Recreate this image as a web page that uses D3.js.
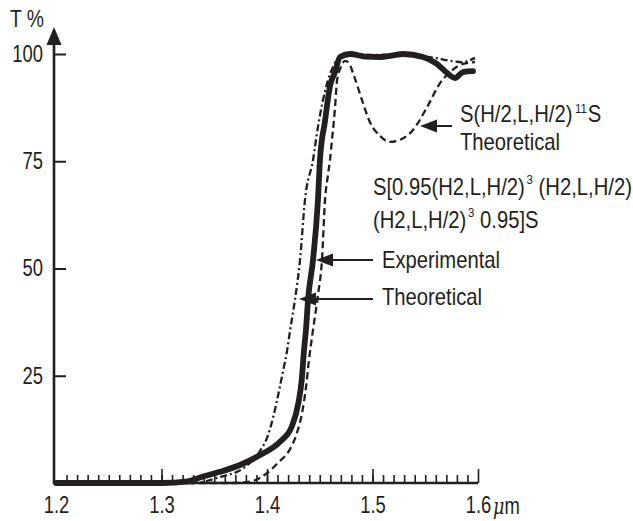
<!DOCTYPE html>
<html>
<head>
<meta charset="utf-8">
<script src="https://cdn.jsdelivr.net/npm/d3@7/dist/d3.min.js"></script>
<style>
  html, body { margin: 0; padding: 0; background: #fff; }
  svg { display: block; }
  text { font-family: "Liberation Sans", Arimo, Arial, sans-serif; fill: #231f20; }
</style>
</head>
<body>
<svg id="chart" width="633" height="521"></svg>
<script>
// Transmission spectra of the multilayer stacks (wavelength in µm, T in %)
const expLambda = [1.2, 1.3, 1.325, 1.3365, 1.3555, 1.3744, 1.3934, 1.4123, 1.4234, 1.4297, 1.4329, 1.4351, 1.437, 1.4389, 1.4436, 1.4483, 1.4502, 1.455, 1.4597, 1.4645, 1.4692, 1.4787, 1.4930, 1.5071, 1.5180, 1.5289, 1.5479, 1.5611, 1.5706, 1.5782, 1.5858, 1.5953];
const expT      = [0, 0, 0.4, 1.3, 2.6, 4.2, 6.5, 9.6, 13.1, 18.6, 24, 31, 35.9, 42.7, 52, 66, 75.3, 84.4, 92.5, 95.8, 99.3, 100, 99.4, 99.3, 99.6, 100, 99.3, 97.7, 95.6, 94.4, 95.8, 96.0];

const dashLambda = [1.2, 1.37, 1.3867, 1.4, 1.4104, 1.4218, 1.4284, 1.4332, 1.437, 1.4398, 1.4436, 1.4483, 1.4521, 1.455, 1.4578, 1.4597, 1.4616, 1.4645, 1.4664, 1.4701, 1.4739, 1.4777, 1.4815, 1.49, 1.4976, 1.5071, 1.5166, 1.526, 1.5384, 1.5517, 1.564, 1.5735, 1.5858, 1.5972];
const dashT      = [0, 0, 0.5, 2.3, 4.7, 7.9, 11.7, 16.3, 22.4, 28.7, 35.7, 43.8, 52, 66, 71.8, 75.3, 80, 87.6, 93.9, 97, 98.4, 97.9, 95.6, 89.3, 84.1, 80.9, 79.5, 80, 82.3, 87.6, 93.2, 95.8, 97.7, 98.1];

const dotLambda = [1.2, 1.33, 1.3555, 1.379, 1.3934, 1.4, 1.4057, 1.4104, 1.4152, 1.419, 1.4218, 1.4265, 1.4313, 1.436, 1.4436, 1.4483, 1.4531, 1.4578, 1.4626, 1.4692, 1.4882, 1.5166, 1.545, 1.5592, 1.5735, 1.5848, 1.5972];
const dotT      = [0, 0, 1.4, 3.7, 7.5, 10.5, 15.2, 20.3, 26.1, 30.8, 35.4, 42.7, 52, 66, 75.3, 83, 89.3, 93.9, 97, 99.3, 99.8, 99.8, 99.5, 99.1, 98.4, 98.1, 99.1];

const xTickValues = [1.2, 1.3, 1.4, 1.5, 1.6];
const xMinorTicks = d3.range(121, 160).map(v => v / 100);
const yTickValues = [25, 50, 75, 100];

const ink = "#231f20";
const numSqueeze = 0.8;        // condensed digits
const wordSqueeze = 0.88;      // condensed lettering for annotations
const fontSize = 23;
const svg = d3.select("#chart");

const x = d3.scaleLinear().domain([1.2, 1.6]).range([56, 478]);
const y = d3.scaleLinear().domain([0, 100]).range([483, 54]);

const zip = (xs, ys) => xs.map((v, i) => [v, ys[i]]);
const line = d3.line().x(d => x(d[0])).y(d => y(d[1])).curve(d3.curveMonotoneX);

// Condensed text placed at (tx, ty)
function label(tx, ty, k = wordSqueeze) {
  return svg.append("text")
    .attr("transform", `translate(${tx},${ty}) scale(${k},1)`)
    .attr("font-size", fontSize);
}

// Minor ticks every 0.01 µm, pointing up from the baseline
svg.append("g")
  .attr("transform", `translate(0,${y(0)})`)
  .call(d3.axisBottom(x).tickValues(xMinorTicks).tickSize(-8).tickFormat(""))
  .call(g => g.select(".domain").remove())
  .call(g => g.selectAll("line").attr("stroke", ink).attr("stroke-width", 1.6));

// Major ticks with labels
const xAxis = svg.append("g")
  .attr("transform", `translate(0,${y(0)})`)
  .call(d3.axisBottom(x).tickValues(xTickValues).tickSize(-14).tickPadding(14).tickFormat(d3.format(".1f")))
  .call(g => g.select(".domain").remove())
  .call(g => g.selectAll("line").attr("stroke", ink).attr("stroke-width", 1.6));
xAxis.selectAll("text").attr("font-size", fontSize).attr("fill", ink)
  .attr("transform", `scale(${numSqueeze},1)`)
  .style("font-family", '"Liberation Sans", Arimo, Arial, sans-serif');
xAxis.selectAll(".tick").filter(d => d === 1.2).select("line").remove();

// Y axis with inward ticks
const yAxis = svg.append("g")
  .attr("transform", `translate(54,0)`)
  .call(d3.axisLeft(y).tickValues(yTickValues).tickSize(-12).tickPadding(11))
  .call(g => g.select(".domain").remove())
  .call(g => g.selectAll("line").attr("stroke", ink).attr("stroke-width", 2));
yAxis.selectAll("text").attr("font-size", fontSize).attr("fill", ink)
  .attr("x", 0).attr("transform", `translate(-11,0) scale(${numSqueeze},1)`)
  .style("font-family", '"Liberation Sans", Arimo, Arial, sans-serif');

// Axis lines
svg.append("line").attr("x1", 54).attr("x2", 478).attr("y1", y(0)).attr("y2", y(0))
  .attr("stroke", ink).attr("stroke-width", 2.4);
svg.append("line").attr("x1", 54).attr("x2", 54).attr("y1", y(0) + 1).attr("y2", 40)
  .attr("stroke", ink).attr("stroke-width", 2.6);
svg.append("path").attr("d", "M54,27 L61.5,45 L46.5,45 Z").attr("fill", ink);

// Axis titles
label(10, 27, 0.84).text("T %");
const unit = label(493, y(0) + 31, numSqueeze);
unit.append("tspan").attr("font-style", "italic").style("font-family", '"DejaVu Serif", serif').attr("font-size", 22).text("μ");
unit.append("tspan").text("m");

// Spectra
svg.append("path").datum(zip(dotLambda, dotT)).attr("d", line)
  .attr("fill", "none").attr("stroke", ink).attr("stroke-width", 2.3)
  .attr("stroke-dasharray", "7,3,2,3");
svg.append("path").datum(zip(dashLambda, dashT)).attr("d", line)
  .attr("fill", "none").attr("stroke", ink).attr("stroke-width", 2.3)
  .attr("stroke-dasharray", "7,4");
svg.append("path").datum(zip(expLambda, expT)).attr("d", line)
  .attr("fill", "none").attr("stroke", ink).attr("stroke-width", 5.8)
  .attr("stroke-linejoin", "round").attr("stroke-linecap", "round");

// Annotation arrows pointing left
function arrow(x1, x2, yy) {
  svg.append("line").attr("x1", x1).attr("x2", x2 + 10).attr("y1", yy).attr("y2", yy)
    .attr("stroke", ink).attr("stroke-width", 2);
  svg.append("path").attr("d", `M${x2},${yy} L${x2 + 17},${yy - 6.5} L${x2 + 17},${yy + 6.5} Z`).attr("fill", ink);
}
arrow(452, 420, 126);
arrow(373, 316, 260);
arrow(373, 299, 299);

// Annotation labels
const t1 = label(460, 122);
t1.append("tspan").text("S(H/2,L,H/2)");
t1.append("tspan").attr("font-size", 13).attr("dy", -9).attr("dx", 3).text("11");
t1.append("tspan").attr("dy", 9).attr("dx", 1).text("S");
label(460, 150).text("Theoretical");

const t2 = label(373, 195);
t2.append("tspan").text("S[0.95(H2,L,H/2)");
t2.append("tspan").attr("font-size", 13).attr("dy", -11).attr("dx", 2).text("3");
t2.append("tspan").attr("dy", 11).text(" (H2,L,H/2)");
const t3 = label(373, 228);
t3.append("tspan").text("(H2,L,H/2)");
t3.append("tspan").attr("font-size", 13).attr("dy", -11).attr("dx", 2).text("3");
t3.append("tspan").attr("dy", 11).text(" 0.95]S");

label(382, 268).text("Experimental");
label(382, 305).text("Theoretical");
</script>
</body>
</html>
